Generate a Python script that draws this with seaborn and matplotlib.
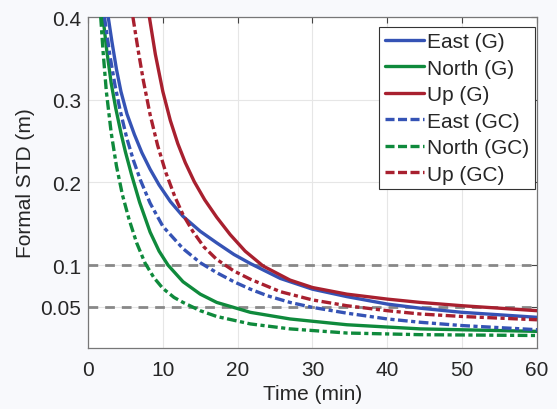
import numpy as np
import pandas as pd
import matplotlib
matplotlib.use("Agg")
import matplotlib.pyplot as plt
from matplotlib.lines import Line2D
import seaborn as sns

sns.set_style("white")
plt.rcParams['font.family'] = ['Liberation Sans', 'DejaVu Sans']
plt.rcParams['lines.scale_dashes'] = False

# Values (time in min, formal STD in m)
east_g_t = [2.7, 3.2, 3.8, 4.4, 5.2, 6.2, 7.2, 8.3, 9.5, 11.0, 12.7, 15.0, 17.2, 19.5,
            21.7, 25.7, 30, 34.6, 40, 44.4, 50, 60]
east_g_y = [0.40, 0.37, 0.337, 0.31, 0.283, 0.258, 0.236, 0.216, 0.197, 0.177, 0.159, 0.141,
            0.127, 0.113, 0.102, 0.084, 0.071, 0.062, 0.053, 0.048, 0.043, 0.037]

north_g_t = [2.0, 2.5, 3.1, 3.7, 4.4, 5.0, 5.8, 6.9, 8.3, 9.5, 10.7, 12.7, 15.0, 17.2,
             21.7, 27, 34.6, 44.4, 60]
north_g_y = [0.40, 0.36, 0.32, 0.29, 0.26, 0.237, 0.21, 0.176, 0.14, 0.117, 0.100, 0.080,
             0.065, 0.055, 0.043, 0.035, 0.028, 0.023, 0.020]

up_g_t = [8.2, 9.0, 10.0, 11.0, 12.0, 13.0, 14.2, 15.6, 17.2, 19.0, 21.0, 23.4, 27, 30,
          34.6, 40, 44.4, 50, 60]
up_g_y = [0.40, 0.355, 0.31, 0.275, 0.247, 0.224, 0.201, 0.179, 0.158, 0.137, 0.117, 0.099,
          0.082, 0.073, 0.065, 0.059, 0.055, 0.051, 0.045]

east_gc_t = [2.2, 2.9, 3.6, 4.3, 5.2, 6.1, 7.0, 8.3, 10.0, 12.7, 15.0, 17.2, 19.5, 21.7,
             24, 27, 30, 34.6, 40, 44.4, 50, 60]
east_gc_y = [0.40, 0.355, 0.318, 0.287, 0.253, 0.226, 0.203, 0.175, 0.147, 0.120, 0.103,
             0.091, 0.080, 0.071, 0.063, 0.055, 0.049, 0.042, 0.035, 0.031, 0.027, 0.022]

north_gc_t = [1.7, 2.0, 2.45, 3.1, 3.8, 4.6, 5.5, 6.5, 7.6, 8.8, 10.0, 11.5, 12.7, 15.0,
              17.2, 21.7, 27, 34.6, 44.4, 60]
north_gc_y = [0.40, 0.36, 0.31, 0.26, 0.22, 0.185, 0.155, 0.127, 0.103, 0.085, 0.072, 0.061,
              0.055, 0.045, 0.038, 0.029, 0.023, 0.018, 0.016, 0.015]

up_gc_t = [6.0, 6.7, 7.4, 8.3, 9.3, 10.4, 11.6, 12.7, 14.0, 15.5, 17.2, 19.5, 21.7, 25.7,
           30, 34.6, 40, 44.4, 50, 60]
up_gc_y = [0.40, 0.36, 0.323, 0.282, 0.245, 0.212, 0.183, 0.161, 0.141, 0.122, 0.107, 0.093,
           0.083, 0.068, 0.058, 0.051, 0.045, 0.041, 0.038, 0.034]

thresholds = [0.1, 0.05]

blue = '#3553b5'
green = '#0f8a3c'
red = '#a8202f'

series = [
    ('East (G)', east_g_t, east_g_y, blue, '-'),
    ('North (G)', north_g_t, north_g_y, green, '-'),
    ('Up (G)', up_g_t, up_g_y, red, '-'),
    ('East (GC)', east_gc_t, east_gc_y, blue, '-.'),
    ('North (GC)', north_gc_t, north_gc_y, green, '-.'),
    ('Up (GC)', up_gc_t, up_gc_y, red, '-.'),
]

fig = plt.figure(figsize=(5.57, 4.10), dpi=100)
fig.patch.set_facecolor('#f8f9fc')
ax = fig.add_axes([0.158, 0.149, 0.806, 0.807])
ax.set_facecolor('white')

# threshold lines
for th in thresholds:
    ax.axhline(th, color='#888888', lw=2, dashes=(7, 5), zorder=1)

handles = []
for name, t, y, c, ls in series:
    df = pd.DataFrame({'t': t, 'y': y})
    n_before = len(ax.lines)
    sns.lineplot(data=df, x='t', y='y', ax=ax, color=c, lw=2.4,
                 sort=False, zorder=3)
    if ls == '-.':
        ax.lines[n_before].set_dashes((7, 2.5, 3, 2.5))
        handles.append(Line2D([], [], color=c, lw=2.4, dashes=(6.5, 2.5)))
    else:
        handles.append(Line2D([], [], color=c, lw=2.4))

ax.set_xlim(0, 60)
ax.set_ylim(0, 0.4)
ax.set_xticks([0, 10, 20, 30, 40, 50, 60])
ax.set_yticks([0.05, 0.1, 0.2, 0.3, 0.4])
ax.set_yticklabels(['0.05', '0.1', '0.2', '0.3', '0.4'])
ax.grid(True, color='#e6e6e6', lw=0.8, zorder=0)
ax.tick_params(direction='in', length=4, labelsize=15, color='#444444',
               top=True, right=True)
ax.tick_params(axis='y', pad=5)
ax.tick_params(axis='x', pad=9)
for sp in ax.spines.values():
    sp.set_color('#777777')
    sp.set_linewidth(0.9)

ax.set_xlabel('Time (min)', fontsize=15, labelpad=3)
ax.set_ylabel('Formal STD (m)', fontsize=15, labelpad=4)

leg = ax.legend(handles, [s[0] for s in series], loc='upper right',
                bbox_to_anchor=(0.995, 0.97),
                fontsize=15, frameon=True, fancybox=False, framealpha=1,
                edgecolor='#333333', handlelength=1.9, handletextpad=0.15,
                labelspacing=0.36, borderpad=0.25, borderaxespad=0.0)
leg.get_frame().set_linewidth(0.8)

fig.savefig('out.png', dpi=100, facecolor=fig.get_facecolor())
